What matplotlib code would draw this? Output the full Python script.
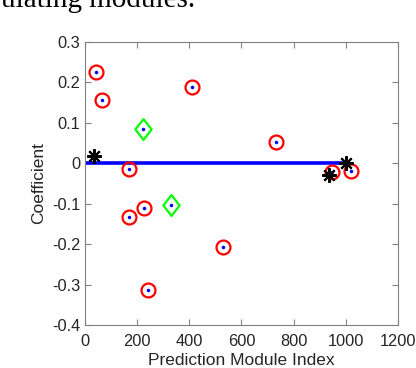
import numpy as np
import matplotlib
matplotlib.use('Agg')
import matplotlib.pyplot as plt
from matplotlib.path import Path

# coefficient per prediction module
red_x = [42, 64, 170, 170, 226, 240, 409, 529, 732, 947, 1018]
red_y = [0.226, 0.156, -0.014, -0.134, -0.110, -0.314, 0.189, -0.208, 0.053, -0.021, -0.020]
green_x = [221, 328]
green_y = [0.086, -0.103]
star_x = [33, 936, 1000]
star_y = [0.019, -0.030, 0.000]
base_x = [0, 1000]
base_y = [0, 0]

plt.rcParams['font.family'] = ['Liberation Sans', 'DejaVu Sans']

fig = plt.figure(figsize=(4.16, 3.68), dpi=100)
# caption text from the page above, cut off by the crop
fig.text(195 / 416, 1 - 7 / 368, 'ulating modules.', family='Liberation Serif', fontsize=21,
         ha='right', va='baseline', color='black')

ax = fig.add_axes([0.2043, 0.1168, 0.7524, 0.7691])

ax.plot(base_x, base_y, color='#0000ff', lw=2.6, solid_capstyle='butt', zorder=2)

diamond = Path([(0, 1), (0.78, 0), (0, -1), (-0.78, 0), (0, 1)],
               [Path.MOVETO, Path.LINETO, Path.LINETO, Path.LINETO, Path.CLOSEPOLY])

ax.plot(red_x, red_y, 'o', ms=10, mfc='none', mec='#ff0000', mew=1.6, zorder=3)
ax.plot(red_x, red_y, '.', ms=3, color='#0000ff', zorder=4)
ax.plot(green_x, green_y, ls='none', marker=diamond, ms=15, mfc='none', mec='#00ff00', mew=1.6, zorder=3)
ax.plot(green_x, green_y, '.', ms=3, color='#0000ff', zorder=4)
ax.plot(star_x, star_y, ls='none', marker=(8, 2, 0), ms=10.5, color='black', mew=1.5, zorder=5)

ax.set_xlim(0, 1200)
ax.set_ylim(-0.4, 0.3)
ax.set_xticks(np.arange(0, 1201, 200))
ax.set_yticks(np.round(np.arange(-0.4, 0.31, 0.1), 1))
ax.set_yticklabels(['-0.4', '-0.3', '-0.2', '-0.1', '0', '0.1', '0.2', '0.3'])

for s in ax.spines.values():
    s.set_color('#808080')
    s.set_linewidth(0.8)
ax.tick_params(direction='in', top=True, right=True, length=4, width=0.8,
               color='#808080', labelsize=11.8, labelcolor='#262626')
ax.tick_params(axis='x', pad=6.5)
ax.set_xlabel('Prediction Module Index', fontsize=12.5, color='#262626', labelpad=3)
ax.set_ylabel('Coefficient', fontsize=12.5, color='#262626', labelpad=4)

fig.savefig('out.png', dpi=100)
